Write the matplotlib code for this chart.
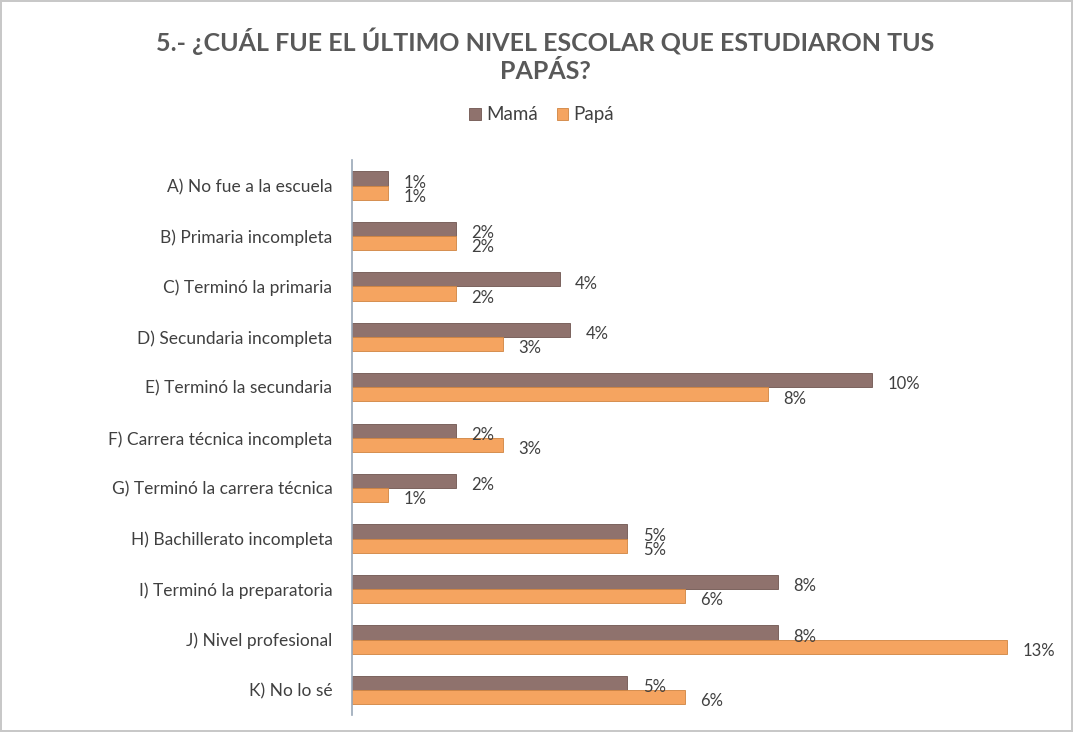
import numpy as np
import matplotlib.pyplot as plt

# Data (percent of respondents)
categories = [
    "A) No fue a la escuela",
    "B) Primaria incompleta",
    "C) Terminó la primaria",
    "D) Secundaria incompleta",
    "E) Terminó la secundaria",
    "F) Carrera técnica incompleta",
    "G) Terminó la carrera técnica",
    "H) Bachillerato incompleta",
    "I) Terminó la preparatoria",
    "J) Nivel profesional",
    "K) No lo sé",
]
mama = [0.7, 2.0, 4.0, 4.2, 10.0, 2.0, 2.0, 5.3, 8.2, 8.2, 5.3]
papa = [0.7, 2.0, 2.0, 2.9, 8.0, 2.9, 0.7, 5.3, 6.4, 12.6, 6.4]

title = "5.- ¿CUÁL FUE EL ÚLTIMO NIVEL ESCOLAR QUE ESTUDIARON TUS\nPAPÁS?"

plt.rcParams['font.family'] = ['Lato', 'DejaVu Sans']
text_color = "#404040"
col_mama = "#8f726d"
col_papa = "#f5a460"

fig = plt.figure(figsize=(10.73, 7.32), dpi=100)
fig.patch.set_edgecolor("#c8c8c8")
fig.patch.set_linewidth(1.5)

ax = fig.add_axes([0.328, 0.023, 0.642, 0.758])

y = np.arange(len(categories))
h = 0.28
bars_m = ax.barh(y - h / 2, mama, height=h, color=col_mama, label="Mamá",
                 edgecolor="#6f5550", linewidth=0.6)
bars_p = ax.barh(y + h / 2, papa, height=h, color=col_papa, label="Papá",
                 edgecolor="#d08440", linewidth=0.6)

# value labels
for yi, v in zip(y, mama):
    ax.annotate(f"{v:.0f}%", (v, yi - h / 2), xytext=(11, -3),
                textcoords="offset points", ha="left", va="center",
                fontsize=12, color=text_color)
for yi, v in zip(y, papa):
    ax.annotate(f"{v:.0f}%", (v, yi + h / 2), xytext=(11, -3),
                textcoords="offset points", ha="left", va="center",
                fontsize=12, color=text_color)

ax.set_yticks(y)
ax.set_yticklabels(categories, fontsize=12.5, color=text_color)
ax.tick_params(axis="y", length=0, pad=14)
ax.set_xticks([])
ax.set_xlim(0, 13.25)
ax.set_ylim(10.5, -0.5)

for s in ["top", "right", "bottom"]:
    ax.spines[s].set_visible(False)
ax.spines["left"].set_color("#9aa8b8")
ax.spines["left"].set_linewidth(1.2)

fig.text(0.508, 0.925, title, ha="center", va="center", fontsize=18,
         fontweight="bold", color="#595959", linespacing=1.25)

fig.legend(handles=[bars_m, bars_p], labels=["Mamá", "Papá"], loc="center",
           bbox_to_anchor=(0.505, 0.843), ncol=2, frameon=False, fontsize=13.5,
           handlelength=0.6, handleheight=0.6, handletextpad=0.3,
           columnspacing=1.0, labelcolor=text_color)

fig.savefig("out.png", dpi=100)
